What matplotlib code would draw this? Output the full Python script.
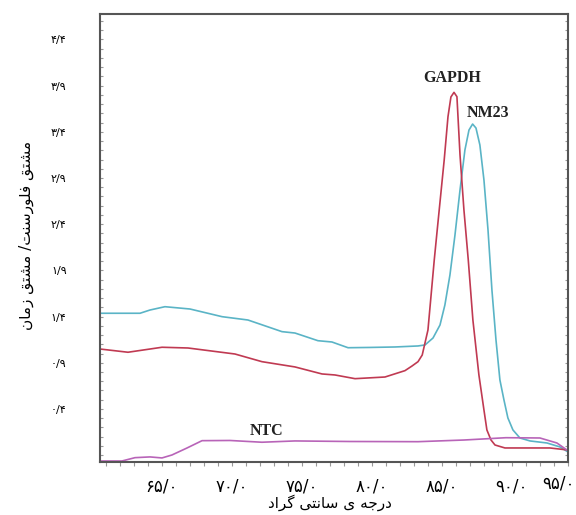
import matplotlib.pyplot as plt
import numpy as np

# melt curve values (temperature, dF/dT)
gapdh_t = [60.57, 62.57, 65.0, 66.86, 70.21, 72.14, 74.5, 76.43, 77.36, 78.79, 80.93, 82.36,
           82.86, 83.29, 83.59, 84.0, 84.45, 84.64, 85.16, 85.43, 85.64, 85.86, 86.07, 86.29,
           86.57, 86.88, 87.21, 87.64, 88.0, 88.21, 88.5, 88.79, 89.5, 91.29, 92.71, 94.0]
gapdh_v = [1.049, 1.014, 1.068, 1.060, 0.995, 0.912, 0.855, 0.779, 0.768, 0.728, 0.746, 0.815,
           0.865, 0.912, 0.984, 1.255, 2.013, 2.305, 3.095, 3.563, 3.777, 3.827, 3.780, 3.149,
           2.554, 2.013, 1.363, 0.768, 0.389, 0.173, 0.065, 0.010, -0.022, -0.022, -0.022, -0.044]

nm23_t = [60.57, 63.43, 64.14, 65.21, 67.0, 69.29, 71.14, 73.57, 74.5, 76.14, 77.14, 78.29,
          79.86, 81.64, 83.29, 83.79, 84.36, 84.86, 85.21, 85.57, 85.93, 86.29, 86.64, 86.93,
          87.19, 87.43, 87.71, 88.0, 88.29, 88.57, 88.86, 89.14, 89.43, 89.71, 90.07, 90.57,
          91.29, 92.5, 93.43, 94.0]
nm23_v = [1.436, 1.436, 1.471, 1.507, 1.482, 1.399, 1.363, 1.237, 1.222, 1.139, 1.125, 1.063,
          1.066, 1.071, 1.082, 1.093, 1.168, 1.309, 1.526, 1.850, 2.283, 2.770, 3.203, 3.419,
          3.484, 3.441, 3.257, 2.878, 2.337, 1.688, 1.147, 0.714, 0.497, 0.303, 0.173, 0.086,
          0.054, 0.032, -0.011, -0.065]

ntc_t = [60.57, 62.14, 63.07, 64.14, 65.0, 65.71, 66.79, 67.86, 69.86, 72.14, 74.5, 78.43,
         83.29, 86.57, 89.57, 92.0, 93.21, 93.93]
ntc_v = [-0.163, -0.163, -0.127, -0.119, -0.130, -0.098, -0.022, 0.057, 0.059, 0.040, 0.054, 0.048,
         0.046, 0.064, 0.089, 0.086, 0.032, -0.044]

x_ticks = [65, 70, 75, 80, 85, 90]
x_labels = ['۶۵/۰', '۷۰/۰', '۷۵/۰', '۸۰/۰', '۸۵/۰', '۹۰/۰']
last_x_label = '۹۵/۰'
y_ticks = [0.4, 0.9, 1.4, 1.9, 2.4, 2.9, 3.4, 3.9, 4.4]
y_labels = ['۰/۴', '۰/۹', '۱/۴', '۱/۹', '۲/۴', '۲/۹', '۳/۴', '۳/۹', '۴/۴']

x_title = 'درجه\u200cی سانتی\u200cگراد'
y_title = 'مشتق فلورسنت/ مشتق زمان'

# matplotlib does no arabic shaping, so pick presentation forms by hand
# (isolated, final, initial, medial); None = letter does not join to the next one
FORMS = {
    'ا': ('\uFE8D', '\uFE8E', None, None),
    'ت': ('\uFE95', '\uFE96', '\uFE97', '\uFE98'),
    'ج': ('\uFE9D', '\uFE9E', '\uFE9F', '\uFEA0'),
    'د': ('\uFEA9', '\uFEAA', None, None),
    'ر': ('\uFEAD', '\uFEAE', None, None),
    'ز': ('\uFEAF', '\uFEB0', None, None),
    'س': ('\uFEB1', '\uFEB2', '\uFEB3', '\uFEB4'),
    'ش': ('\uFEB5', '\uFEB6', '\uFEB7', '\uFEB8'),
    'ف': ('\uFED1', '\uFED2', '\uFED3', '\uFED4'),
    'ق': ('\uFED5', '\uFED6', '\uFED7', '\uFED8'),
    'ل': ('\uFEDD', '\uFEDE', '\uFEDF', '\uFEE0'),
    'م': ('\uFEE1', '\uFEE2', '\uFEE3', '\uFEE4'),
    'ن': ('\uFEE5', '\uFEE6', '\uFEE7', '\uFEE8'),
    'ه': ('\uFEE9', '\uFEEA', '\uFEEB', '\uFEEC'),
    'و': ('\uFEED', '\uFEEE', None, None),
    'ی': ('\uFBFC', '\uFBFD', '\uFBFE', '\uFBFF'),
    'گ': ('\uFB92', '\uFB93', '\uFB94', '\uFB95'),
}


def shape(text):
    out = []
    for i, c in enumerate(text):
        if c not in FORMS:
            out.append(c)
            continue
        prev = text[i - 1] if i > 0 else ''
        nxt = text[i + 1] if i + 1 < len(text) else ''
        join_prev = prev in FORMS and FORMS[prev][2] is not None
        join_next = nxt in FORMS and FORMS[c][2] is not None
        iso, fin, ini, med = FORMS[c]
        if join_prev and join_next:
            out.append(med)
        elif join_prev:
            out.append(fin)
        elif join_next:
            out.append(ini)
        else:
            out.append(iso)
    return ''.join(reversed(out)).replace('\u200c', ' ')


plt.rcParams['font.family'] = ['DejaVu Sans']

fig = plt.figure(figsize=(5.76, 5.15), dpi=100)
ax = fig.add_axes([0.1736, 0.1029, 0.8124, 0.8699])

ax.plot(nm23_t, nm23_v, color='#5ab4c6', lw=1.2)
ax.plot(gapdh_t, gapdh_v, color='#c03a52', lw=1.2)
ax.plot(ntc_t, ntc_v, color='#b864b8', lw=1.2)

lbl = dict(family='Liberation Serif', fontweight='bold', fontsize=11.5, ha='center', va='center', color='#222222')
ax.text(85.7, 3.98, 'GAPDH', **lbl)
ax.text(88.3, 3.6, 'NM23', **lbl)
ax.text(72.5, 0.16, 'NTC', **lbl)

ax.set_xlim(60.57, 94.0)
ax.set_ylim(-0.174, 4.675)
ax.set_xticks(x_ticks)
ax.set_xticklabels(x_labels, fontsize=12)
ax.set_xticks(np.arange(61, 95, 1), minor=True)
ax.set_yticks(y_ticks)
ax.set_yticklabels(y_labels, fontsize=8)
ax.set_yticks(np.arange(-0.1, 4.7, 0.1), minor=True)

ax.tick_params(axis='both', which='both', direction='out', length=3, color='#999999', width=0.8)
ax.tick_params(axis='x', which='major', pad=8)
ax.tick_params(axis='y', which='major', pad=24)
ax.tick_params(axis='y', which='both', right=True, direction='in', length=2)

for s in ax.spines.values():
    s.set_color('#555555')
    s.set_linewidth(1.5)

fig.text(575 / 576, 1 - 483 / 515, last_x_label, fontsize=12, ha='right', va='center')
fig.text(330 / 576, 1 - 503 / 515, shape(x_title), fontsize=11, ha='center', va='center')
fig.text(26 / 576, 1 - 235 / 515, shape(y_title), fontsize=11, rotation=90, ha='center', va='center')

fig.savefig('out.png', dpi=100)
